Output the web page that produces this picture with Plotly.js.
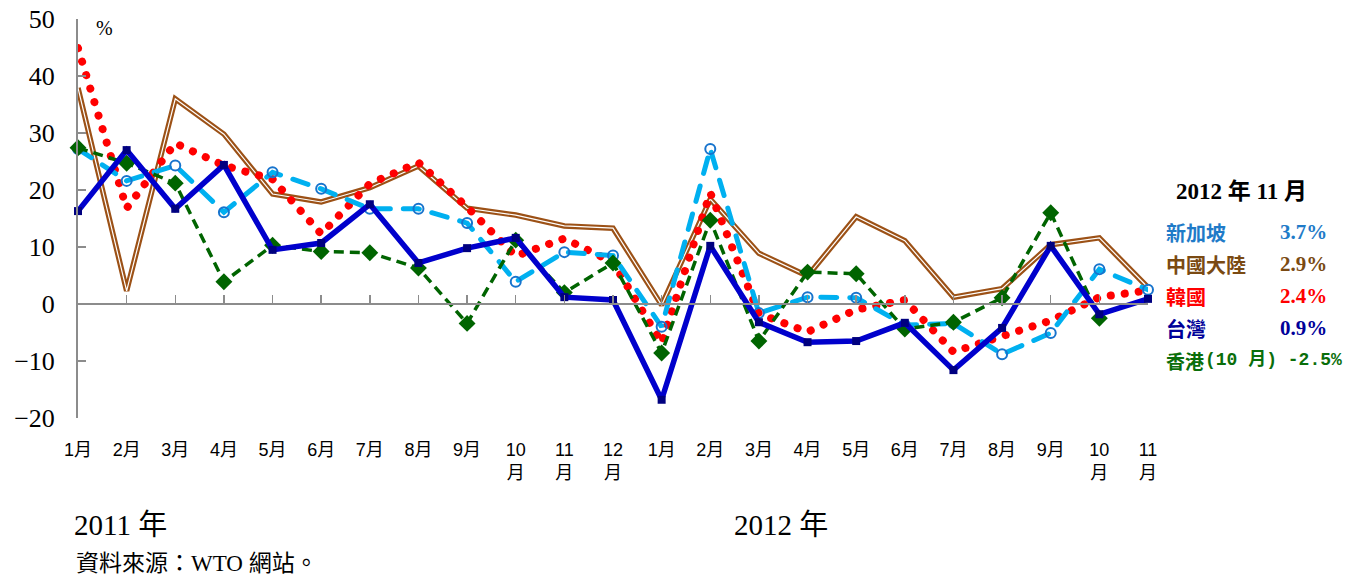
<!DOCTYPE html>
<html>
<head>
<meta charset="utf-8">
<script src="https://cdn.plot.ly/plotly-3.0.1.min.js"></script>
<style>
html, body { margin: 0; padding: 0; background: #fff; }
#chart { width: 1356px; height: 578px; }
.tracekorea .js-line { stroke-linecap: round !important; }
.tracesingapore .js-line { stroke-linecap: round !important; }
</style>
</head>
<body>
<div id="chart"></div>
<script>
// Month labels (2011/01 .. 2012/11)
const monthLabels = ['1月','2月','3月','4月','5月','6月','7月','8月','9月','10<br>月','11<br>月','12<br>月',
                     '1月','2月','3月','4月','5月','6月','7月','8月','9月','10<br>月','11<br>月'];
// Series values (%), year-on-year export growth
const singapore = [27.2, 21.6, 24.3, 16.1, 23.1, 20.2, 16.7, 16.7, 14.2, 3.9, 9.1, 8.5,
                   -4.0, 27.2, -1.6, 1.2, 1.1, -3.7, -3.4, -8.8, -5.1, 6.1, 2.5];
const china     = [37.9, 2.3, 36.0, 29.8, 19.3, 17.9, 20.4, 24.2, 16.8, 15.6, 13.7, 13.3,
                   -0.2, 18.4, 8.9, 4.9, 15.3, 11.1, 1.2, 2.7, 10.4, 11.6, 2.9];
const korea     = [44.9, 16.8, 28.2, 24.3, 21.9, 12.3, 21.1, 24.8, 17.0, 8.4, 11.5, 7.3,
                   -6.8, 19.5, -1.7, -4.9, -1.0, 0.7, -8.4, -5.8, -2.9, 1.2, 2.4];
const taiwan    = [16.3, 27.0, 16.7, 24.4, 9.5, 10.7, 17.5, 7.2, 9.8, 11.6, 1.2, 0.7,
                   -16.8, 10.2, -3.2, -6.7, -6.5, -3.3, -11.6, -4.2, 10.2, -1.8, 0.9];
const hongkong  = [27.4, 24.7, 21.2, 3.9, 10.3, 9.2, 9.0, 6.3, -3.4, 11.2, 2.0, 7.2,
                   -8.6, 14.7, -6.5, 5.6, 5.3, -4.4, -3.2, 1.1, 16.0, -2.5];
// Side legend texts
const legendTitle = '2012 年 11 月';
const legendNames = ['新加坡', '中國大陸', '韓國', '台灣'];
const legendValues = ['3.7%', '2.9%', '2.4%', '0.9%'];
const hkLegendName = '香港';
const hkLegendRest = '(10 月) -2.5%';
const yearLabels = ['2011 年', '2012 年'];
const sourceText = '資料來源：WTO 網站。';

const idx = monthLabels.map((_, i) => i);
const hkIdx = hongkong.map((_, i) => i);

const cSing = '#00B0F0', cSingEdge = '#1874CD', cSingText = '#1F7BC8';
const cChina = '#9C5116', cChinaText = '#7A4A12';
const cKorea = '#FF0000';
const cTw = '#0000CC', cTwMark = '#000080', cTwText = '#000099';
const cHk = '#006400', cHkText = '#0A6E0A';

const traces = [
  {x: idx, y: china, mode: 'lines', line: {color: cChina, width: 5.5}, cliponaxis: false, hoverinfo: 'skip'},
  {x: idx, y: china, mode: 'lines', line: {color: '#ffffff', width: 1.2}, cliponaxis: false, hoverinfo: 'skip'},
  {x: idx, y: korea, mode: 'lines', uid: 'korea', line: {color: cKorea, width: 8, dash: '0.1px,14px'}, cliponaxis: false},
  {x: idx, y: singapore, mode: 'lines+markers', uid: 'singapore', line: {color: cSing, width: 5, dash: '16px,13px'},
   marker: {symbol: 'circle-open', size: 10, color: cSingEdge, line: {width: 2, color: cSingEdge}}, cliponaxis: false},
  {x: hkIdx, y: hongkong, mode: 'lines+markers', line: {color: cHk, width: 3.5, dash: '10px,6px'},
   marker: {symbol: 'diamond', size: 13, color: cHk}, cliponaxis: false},
  {x: idx, y: taiwan, mode: 'lines+markers', line: {color: cTw, width: 5.5},
   marker: {symbol: 'square', size: 8, color: cTwMark}, cliponaxis: false},
  // invisible trace carrying the bottom tick-label axis
  {x: idx, y: taiwan, xaxis: 'x2', mode: 'lines', opacity: 0, line: {width: 0}, hoverinfo: 'skip'}
];

const L = 78, R = 208, T = 19, B = 160;
const W = 1356 - L - R, H = 578 - T - B;
const px = v => (v - L) / W;
const py = v => (578 - B - v) / H;

const annotations = [
  {text: '%', x: px(94), y: py(28), xref: 'paper', yref: 'paper', xanchor: 'left', yanchor: 'middle', showarrow: false,
   font: {family: 'Liberation Serif', size: 20, color: '#000'}},
  {text: '<b>' + legendTitle + '</b>', x: px(1241), y: py(191), xref: 'paper', yref: 'paper', xanchor: 'center', yanchor: 'middle', showarrow: false,
   font: {family: 'Liberation Serif, Noto Sans CJK TC', size: 23, color: '#000'}},
  {text: yearLabels[0], x: px(72), y: py(525), xref: 'paper', yref: 'paper', xanchor: 'left', yanchor: 'middle', showarrow: false,
   font: {family: 'Liberation Serif, Noto Sans CJK TC', size: 29, color: '#000'}},
  {text: yearLabels[1], x: px(732), y: py(525), xref: 'paper', yref: 'paper', xanchor: 'left', yanchor: 'middle', showarrow: false,
   font: {family: 'Liberation Serif, Noto Sans CJK TC', size: 29, color: '#000'}},
  {text: sourceText, x: px(74), y: py(563), xref: 'paper', yref: 'paper', xanchor: 'left', yanchor: 'middle', showarrow: false,
   font: {family: 'Liberation Serif, Noto Sans CJK TC', size: 23, color: '#000'}},
  {text: '<b>' + hkLegendName + '</b>', x: px(1164), y: py(360), xref: 'paper', yref: 'paper', xanchor: 'left', yanchor: 'middle', showarrow: false,
   font: {family: 'Noto Sans CJK TC', size: 19, color: cHkText}},
  {text: '<b>' + hkLegendRest + '</b>', x: px(1203), y: py(360), xref: 'paper', yref: 'paper', xanchor: 'left', yanchor: 'middle', showarrow: false,
   font: {family: 'Liberation Mono, Noto Sans CJK TC', size: 18, color: cHkText}}
];
const nameColors = [cSingText, cChinaText, cKorea, cTwText];
const rowY = [232, 264, 296, 328];
legendNames.forEach((n, i) => {
  annotations.push({text: '<b>' + n + '</b>', x: px(1164), y: py(rowY[i]), xref: 'paper', yref: 'paper', xanchor: 'left', yanchor: 'middle',
    showarrow: false, font: {family: 'Noto Sans CJK TC', size: 20, color: nameColors[i]}});
  annotations.push({text: '<b>' + legendValues[i] + '</b>', x: px(1329), y: py(rowY[i]), xref: 'paper', yref: 'paper', xanchor: 'right', yanchor: 'middle',
    showarrow: false, font: {family: 'Liberation Serif', size: 21, color: nameColors[i]}});
});

const layout = {
  width: 1356, height: 578,
  margin: {l: L, r: R, t: T, b: B, pad: 0},
  paper_bgcolor: '#fff', plot_bgcolor: '#fff',
  showlegend: false,
  xaxis: {
    range: [0, 22], anchor: 'free', position: 20 / 70,
    showline: true, linecolor: '#8c8c8c', linewidth: 2,
    ticks: 'inside', ticklen: 8, tickwidth: 1.5, tickcolor: '#8c8c8c',
    tickvals: idx, showticklabels: false, showgrid: false, zeroline: false, fixedrange: true
  },
  xaxis2: {
    overlaying: 'x', anchor: 'y', side: 'bottom', matches: 'x', range: [0, 22],
    tickvals: idx, ticktext: monthLabels, ticks: '', showline: false, showgrid: false, zeroline: false,
    tickangle: 0, ticklabelstandoff: 19,
    tickfont: {family: 'Liberation Sans, Noto Sans CJK TC', size: 18, color: '#000'}
  },
  yaxis: {
    range: [-20, 50], dtick: 10, tick0: 0,
    showline: true, linecolor: '#8c8c8c', linewidth: 2,
    ticks: 'inside', ticklen: 8, tickwidth: 1.5, tickcolor: '#8c8c8c',
    showgrid: false, zeroline: false, ticklabelstandoff: 16,
    tickfont: {family: 'Liberation Serif', size: 26, color: '#000'}
  },
  annotations: annotations
};

Plotly.newPlot('chart', traces, layout, {staticPlot: true});
</script>
</body>
</html>
